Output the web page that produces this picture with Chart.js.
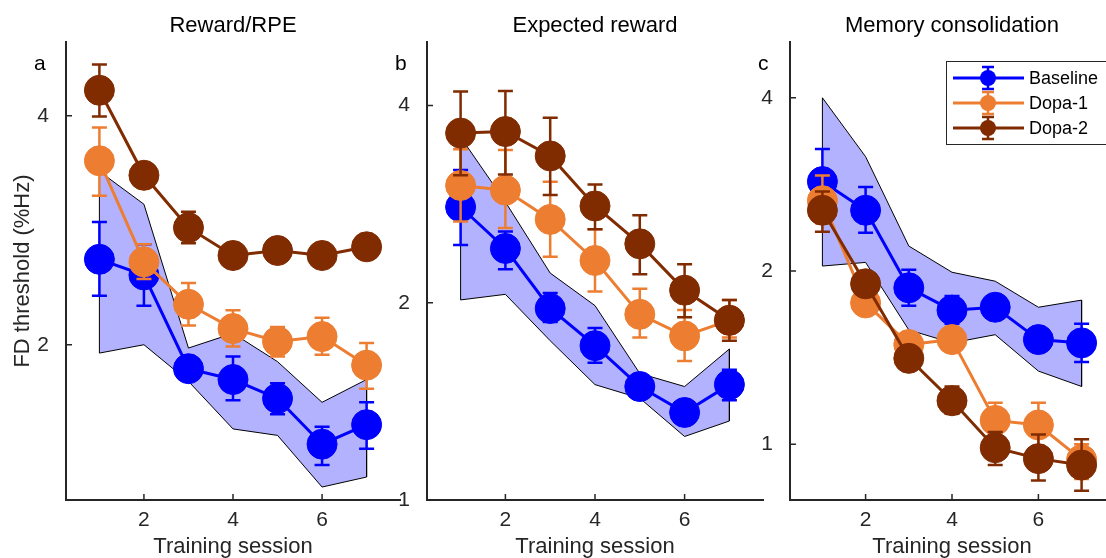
<!DOCTYPE html>
<html>
<head>
<meta charset="utf-8">
<script src="https://cdn.jsdelivr.net/npm/chart.js@4.4.1/dist/chart.umd.min.js"></script>
<style>
  html, body { margin: 0; padding: 0; background: #fff; }
  #wrap { position: relative; width: 1106px; height: 558px; overflow: hidden; }
  #wrap canvas { position: absolute; left: 0; top: 0; }
</style>
</head>
<body>
<div id="wrap">
  <canvas id="panelA" width="1130" height="558"></canvas>
  <canvas id="panelB" width="1130" height="558"></canvas>
  <canvas id="panelC" width="1130" height="558"></canvas>
</div>
<script>
const sessions = [1, 2, 3, 4, 5, 6, 7];
const xTicks = [2, 4, 6];
const seriesNames = ['Baseline', 'Dopa-1', 'Dopa-2'];
const seriesColors = ['#0000ff', '#ed7d31', '#802b00'];

// a: Reward/RPE
const rpeBase = [2.59, 2.47, 1.86, 1.80, 1.70, 1.48, 1.57];
const rpeBaseHi = [2.90, 2.71, 1.92, 1.93, 1.78, 1.56, 1.68];
const rpeBaseLo = [2.32, 2.25, 1.80, 1.69, 1.62, 1.39, 1.46];
const rpeDopa1 = [3.49, 2.57, 2.26, 2.10, 2.02, 2.05, 1.88];
const rpeDopa1Hi = [3.86, 2.71, 2.41, 2.22, 2.11, 2.17, 2.01];
const rpeDopa1Lo = [3.14, 2.44, 2.12, 1.99, 1.93, 1.94, 1.75];
const rpeDopa2 = [4.32, 3.34, 2.85, 2.62, 2.66, 2.62, 2.69];
const rpeDopa2Hi = [4.67, 3.42, 2.99, 2.68, 2.72, 2.68, 2.75];
const rpeDopa2Lo = [3.99, 3.26, 2.72, 2.56, 2.60, 2.56, 2.63];
const rpeBandHi = [3.38, 3.06, 1.98, 2.07, 1.90, 1.68, 1.80];
const rpeBandLo = [1.95, 2.00, 1.79, 1.55, 1.52, 1.30, 1.34];
const rpeYTicks = [2, 4];

// b: Expected reward
const expBase = [2.80, 2.42, 1.96, 1.72, 1.49, 1.36, 1.50];
const expBaseHi = [3.19, 2.57, 2.07, 1.83, 1.55, 1.41, 1.58];
const expBaseLo = [2.45, 2.25, 1.87, 1.62, 1.44, 1.31, 1.42];
const expDopa1 = [3.02, 2.97, 2.68, 2.32, 1.92, 1.78, 1.88];
const expDopa1Hi = [3.43, 3.42, 3.06, 2.59, 2.10, 1.95, 2.02];
const expDopa1Lo = [2.66, 2.60, 2.35, 2.08, 1.77, 1.63, 1.77];
const expDopa2 = [3.63, 3.65, 3.35, 2.81, 2.46, 2.09, 1.88];
const expDopa2Hi = [4.20, 4.21, 3.83, 3.03, 2.72, 2.29, 2.02];
const expDopa2Lo = [3.13, 3.14, 2.92, 2.59, 2.21, 1.90, 1.75];
const expBandHi = [3.58, 2.85, 2.22, 1.98, 1.56, 1.49, 1.70];
const expBandLo = [2.02, 2.06, 1.75, 1.50, 1.43, 1.25, 1.32];
const expYTicks = [1, 2, 4];

// c: Memory consolidation
const memBase = [2.86, 2.55, 1.87, 1.71, 1.73, 1.52, 1.50];
const memBaseHi = [3.26, 2.80, 2.01, 1.81, 1.78, 1.57, 1.62];
const memBaseLo = [2.52, 2.33, 1.74, 1.62, 1.68, 1.47, 1.39];
const memDopa1 = [2.65, 1.76, 1.49, 1.52, 1.10, 1.08, 0.94];
const memDopa1Hi = [2.93, 1.82, 1.54, 1.57, 1.18, 1.18, 1.00];
const memDopa1Lo = [2.42, 1.70, 1.44, 1.47, 1.03, 0.99, 0.87];
const memDopa2 = [2.55, 1.90, 1.41, 1.19, 0.986, 0.944, 0.92];
const memDopa2Hi = [2.75, 1.96, 1.47, 1.26, 1.05, 1.04, 1.02];
const memDopa2Lo = [2.34, 1.84, 1.35, 1.13, 0.92, 0.865, 0.83];
const memBandHi = [4.00, 3.16, 2.21, 1.99, 1.92, 1.73, 1.78];
const memBandLo = [2.04, 2.07, 1.58, 1.50, 1.55, 1.34, 1.26];
const memYTicks = [1, 2, 4];

const FONT = '"Liberation Sans", Arial, Helvetica, sans-serif';
const AXIS = '#262626';
Chart.defaults.font.family = FONT;

// error bars drawn just before each dataset so its markers sit on top
const errorBars = {
    id: 'errorBars',
    beforeDatasetDraw(chart, args) {
        const ds = chart.data.datasets[args.index];
        if (!ds.errHi) return;
        const { ctx, scales: { x, y } } = chart;
        ctx.save();
        ctx.strokeStyle = ds.borderColor;
        ctx.lineWidth = 2.5;
        ds.data.forEach((p, i) => {
            const px = x.getPixelForValue(p.x);
            const yt = y.getPixelForValue(ds.errHi[i]);
            const yb = y.getPixelForValue(ds.errLo[i]);
            ctx.beginPath();
            ctx.moveTo(px, yt); ctx.lineTo(px, yb);
            ctx.moveTo(px - 7.5, yt); ctx.lineTo(px + 7.5, yt);
            ctx.moveTo(px - 7.5, yb); ctx.lineTo(px + 7.5, yb);
            ctx.stroke();
        });
        ctx.restore();
    }
};

// matlab style ticks pointing into the axes
const inwardTicks = {
    id: 'inwardTicks',
    afterDraw(chart) {
        const { ctx, chartArea: a, scales: { x, y } } = chart;
        ctx.save();
        ctx.strokeStyle = AXIS;
        ctx.lineWidth = 1.5;
        ctx.beginPath();
        x.ticks.forEach(t => {
            const px = x.getPixelForValue(t.value);
            ctx.moveTo(px, a.bottom); ctx.lineTo(px, a.bottom - 6);
        });
        y.ticks.forEach(t => {
            const py = y.getPixelForValue(t.value);
            ctx.moveTo(a.left, py); ctx.lineTo(a.left + 6, py);
        });
        ctx.stroke();
        ctx.restore();
    }
};

const panelText = {
    id: 'panelText',
    afterDraw(chart, args, o) {
        const { ctx, chartArea: a } = chart;
        const cx = (a.left + a.right) / 2;
        ctx.save();
        ctx.font = '22px ' + FONT;
        ctx.textBaseline = 'alphabetic';
        ctx.fillStyle = '#000';
        ctx.textAlign = 'center';
        ctx.fillText(o.title, cx, 32);
        ctx.textAlign = 'left';
        ctx.font = '21px ' + FONT;
        ctx.fillText(o.letter, a.left - 32, 70);
        ctx.font = '22px ' + FONT;
        ctx.fillStyle = AXIS;
        ctx.textAlign = 'center';
        ctx.fillText(o.xLabel, cx, 553);
        if (o.yLabel) {
            ctx.translate(29, (a.top + a.bottom) / 2);
            ctx.rotate(-Math.PI / 2);
            ctx.fillText(o.yLabel, 0, 0);
        }
        ctx.restore();
    }
};

const boxLegend = {
    id: 'boxLegend',
    afterDraw(chart, args, o) {
        if (!o.show) return;
        const { ctx, chartArea: a } = chart;
        const left = a.right - 168, top = a.top + 19;
        ctx.save();
        ctx.fillStyle = '#fff';
        ctx.fillRect(left, top, 175, 83);
        ctx.strokeStyle = AXIS;
        ctx.lineWidth = 1;
        ctx.strokeRect(left + 0.5, top + 0.5, 175, 83);
        seriesNames.forEach((name, i) => {
            const yy = top + 17 + i * 25;
            const mx = left + 42;
            ctx.strokeStyle = seriesColors[i];
            ctx.fillStyle = seriesColors[i];
            ctx.lineWidth = 3;
            ctx.beginPath();
            ctx.moveTo(left + 7, yy); ctx.lineTo(left + 78, yy);
            ctx.stroke();
            ctx.lineWidth = 2.5;
            ctx.beginPath();
            ctx.moveTo(mx, yy - 11); ctx.lineTo(mx, yy + 11);
            ctx.moveTo(mx - 6, yy - 11); ctx.lineTo(mx + 6, yy - 11);
            ctx.moveTo(mx - 6, yy + 11); ctx.lineTo(mx + 6, yy + 11);
            ctx.stroke();
            ctx.beginPath();
            ctx.arc(mx, yy, 8, 0, Math.PI * 2);
            ctx.fill();
            ctx.fillStyle = '#000';
            ctx.font = '18px ' + FONT;
            ctx.textAlign = 'left';
            ctx.textBaseline = 'middle';
            ctx.fillText(name, left + 83, yy + 1);
        });
        ctx.restore();
    }
};

function toPoints(vals) {
    return sessions.map((s, i) => ({ x: s, y: vals[i] }));
}

function bandPoints(hi, lo) {
    const pts = toPoints(hi);
    for (let i = sessions.length - 1; i >= 0; i--) pts.push({ x: sessions[i], y: lo[i] });
    pts.push(pts[0]);
    return pts;
}

function seriesSet(i, vals, hi, lo) {
    return {
        label: seriesNames[i],
        data: toPoints(vals),
        borderColor: seriesColors[i],
        backgroundColor: seriesColors[i],
        pointBackgroundColor: seriesColors[i],
        pointBorderColor: seriesColors[i],
        borderWidth: 3,
        pointRadius: 15,
        pointBorderWidth: 1,
        fill: false,
        tension: 0,
        clip: false,
        order: 3 - i,
        errHi: hi,
        errLo: lo
    };
}

function makePanel(id, p) {
    const ctx = document.getElementById(id).getContext('2d');
    return new Chart(ctx, {
        type: 'line',
        data: {
            datasets: [
                {
                    data: bandPoints(p.bandHi, p.bandLo),
                    borderColor: '#000',
                    borderWidth: 1,
                    backgroundColor: 'rgba(0, 0, 255, 0.3)',
                    fill: 'shape',
                    pointRadius: 0,
                    tension: 0,
                    order: 4
                },
                seriesSet(0, p.base, p.baseHi, p.baseLo),
                seriesSet(1, p.dopa1, p.dopa1Hi, p.dopa1Lo),
                seriesSet(2, p.dopa2, p.dopa2Hi, p.dopa2Lo)
            ]
        },
        options: {
            responsive: false,
            animation: false,
            devicePixelRatio: 1,
            layout: { padding: { left: p.left - 60, right: 1130 - p.right, top: 42, bottom: 0 } },
            plugins: {
                legend: { display: false },
                title: { display: false },
                tooltip: { enabled: false },
                panelText: { title: p.title, letter: p.letter, xLabel: 'Training session', yLabel: p.yLabel },
                boxLegend: { show: !!p.legend }
            },
            scales: {
                x: {
                    type: 'linear',
                    min: 0.25,
                    max: 7.75,
                    afterBuildTicks: s => { s.ticks = xTicks.map(v => ({ value: v })); },
                    afterFit: s => { s.height = 58; },
                    grid: { display: false, drawTicks: false },
                    border: { display: true, color: AXIS, width: 2 },
                    ticks: { color: AXIS, font: { size: 21 }, padding: 8, maxRotation: 0, autoSkip: false, callback: v => String(v) }
                },
                y: {
                    type: 'logarithmic',
                    min: p.yMin,
                    max: 5,
                    afterBuildTicks: s => { s.ticks = p.yTicks.map(v => ({ value: v })); },
                    afterFit: s => { s.width = 60; },
                    grid: { display: false, drawTicks: false },
                    border: { display: true, color: AXIS, width: 2 },
                    ticks: { color: AXIS, font: { size: 21 }, padding: 17, autoSkip: false, callback: v => String(v) }
                }
            }
        },
        plugins: [errorBars, inwardTicks, panelText, boxLegend]
    });
}

makePanel('panelA', {
    title: 'Reward/RPE', letter: 'a', yLabel: 'FD threshold (%Hz)',
    left: 66, right: 400, yMin: 1.25, yTicks: rpeYTicks,
    base: rpeBase, baseHi: rpeBaseHi, baseLo: rpeBaseLo,
    dopa1: rpeDopa1, dopa1Hi: rpeDopa1Hi, dopa1Lo: rpeDopa1Lo,
    dopa2: rpeDopa2, dopa2Hi: rpeDopa2Hi, dopa2Lo: rpeDopa2Lo,
    bandHi: rpeBandHi, bandLo: rpeBandLo
});

makePanel('panelB', {
    title: 'Expected reward', letter: 'b',
    left: 427, right: 763, yMin: 1, yTicks: expYTicks,
    base: expBase, baseHi: expBaseHi, baseLo: expBaseLo,
    dopa1: expDopa1, dopa1Hi: expDopa1Hi, dopa1Lo: expDopa1Lo,
    dopa2: expDopa2, dopa2Hi: expDopa2Hi, dopa2Lo: expDopa2Lo,
    bandHi: expBandHi, bandLo: expBandLo
});

makePanel('panelC', {
    title: 'Memory consolidation', letter: 'c', legend: true,
    left: 790, right: 1123, yMin: 0.8, yTicks: memYTicks,
    base: memBase, baseHi: memBaseHi, baseLo: memBaseLo,
    dopa1: memDopa1, dopa1Hi: memDopa1Hi, dopa1Lo: memDopa1Lo,
    dopa2: memDopa2, dopa2Hi: memDopa2Hi, dopa2Lo: memDopa2Lo,
    bandHi: memBandHi, bandLo: memBandLo
});
</script>
</body>
</html>
